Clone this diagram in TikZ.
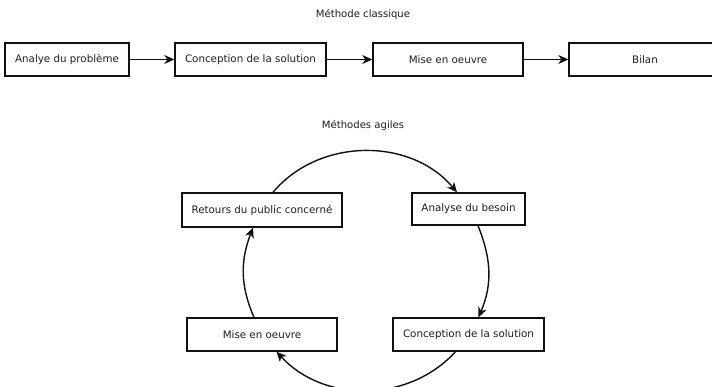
\documentclass[tikz,border=0pt]{standalone}
\usepackage{fontspec}
\setmainfont{DejaVu Sans}
\usetikzlibrary{arrows.meta}
\definecolor{txt}{HTML}{1E1E1E}
\definecolor{ln}{HTML}{111111}
\begin{document}
\begin{tikzpicture}[x=1pt,y=1pt,
  every node/.style={font=\fontsize{10.3}{12}\selectfont, text=txt},
  box/.style={draw=ln, line width=1.4pt, minimum height=33pt, inner sep=0pt, fill=white},
  flow/.style={draw=ln, line width=1.4pt, -{Stealth[length=10pt,width=9pt,inset=3pt]}},
  ttl/.style={font=\fontsize{10.1}{12}\selectfont}]
\clip (0,0) rectangle (712,386);
\fill[white] (0,0) rectangle (712,386);
% classic
\node[ttl] (t1) at (363,371) {Méthode classique};
\node[box, minimum width=124pt] (a1) at (67,326.5) {Analye du problème};
\node[box, minimum width=151pt] (a2) at (250.5,326.5) {Conception de la solution};
\node[box, minimum width=150pt] (a3) at (448,326.5) {Mise en oeuvre};
\node[box, minimum width=152pt] (a4) at (645,326.5) {Bilan};
\draw[flow] (a1) -- (a2);
\draw[flow] (a2) -- (a3);
\draw[flow] (a3) -- (a4);
% agile
\node[ttl] (t2) at (363,260) {Méthodes agiles};
\node[box, minimum width=160pt, minimum height=34pt] (ret) at (262,176) {Retours du public concerné};
\node[box, minimum width=113pt, minimum height=32pt] (ana) at (468.5,177) {Analyse du besoin};
\node[box, minimum width=150pt] (mise) at (262,51.5) {Mise en oeuvre};
\node[box, minimum width=151pt] (conc) at (468.5,51.5) {Conception de la solution};
\draw[flow] ([xshift=11pt]ret.north) to[out=50, in=130] ([xshift=-11.5pt]ana.north);
\draw[flow] ([xshift=9.5pt]ana.south) to[out=-68, in=67] ([xshift=10pt]conc.north);
\draw[flow] ([xshift=-13pt]conc.south) to[out=-132.5, in=-47.5] ([xshift=14.5pt]mise.south);
\draw[flow] ([xshift=-8pt]mise.north) to[out=113.6, in=-111] ([xshift=-9pt]ret.south);
\end{tikzpicture}
\end{document}
